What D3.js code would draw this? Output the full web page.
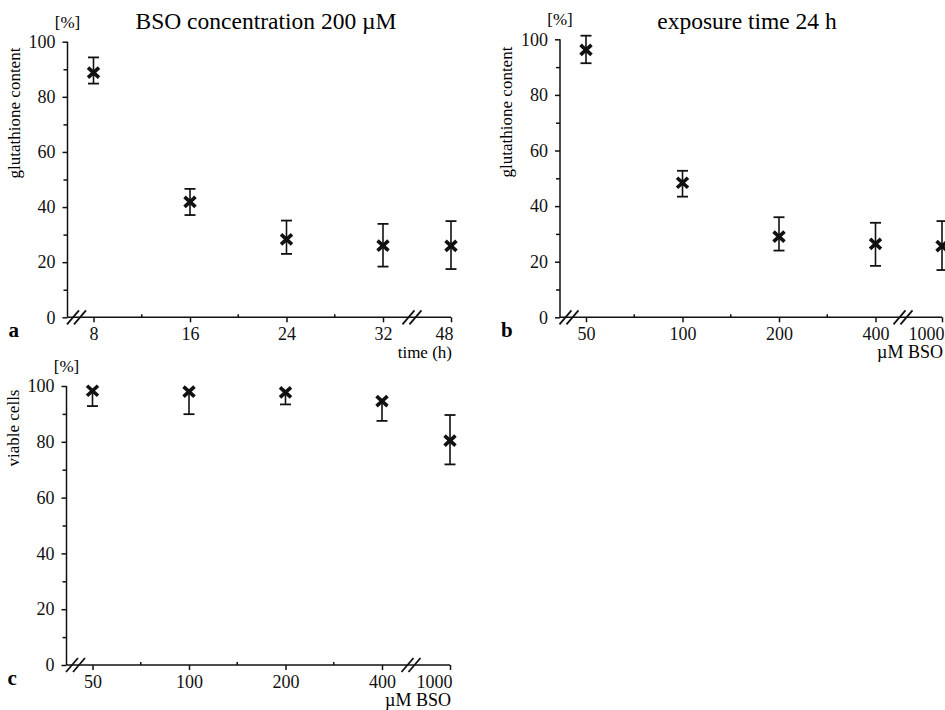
<!DOCTYPE html>
<html>
<head>
<meta charset="utf-8">
<script src="https://cdn.jsdelivr.net/npm/d3@7"></script>
<style>
  body { margin: 0; background: #fff; }
  svg { font-family: "Liberation Serif", "Times New Roman", serif; }
  .tick line, .domain { stroke: #111; stroke-width: 1.5; }
</style>
</head>
<body>
<svg id="chart" width="945" height="710"></svg>
<script>
// panel a: glutathione vs time, 200 uM BSO
const timeCats = ["8", "16", "24", "32", "48"];
const gshTimeMean = [88.8, 41.9, 28.3, 26.0, 25.9];
const gshTimeHigh = [94.3, 46.6, 35.1, 33.9, 34.9];
const gshTimeLow = [84.8, 37.1, 23.0, 18.4, 17.5];

// panel b: glutathione vs BSO dose, 24 h
const bsoCats = ["50", "100", "200", "400", "1000"];
const gshDoseMean = [96.2, 48.4, 29.0, 26.4, 25.6];
const gshDoseHigh = [101.3, 52.7, 36.0, 34.0, 34.6];
const gshDoseLow = [91.4, 43.4, 24.0, 18.5, 17.0];

// panel c: viable cells vs BSO dose
const viableMean = [98.3, 98.0, 97.7, 94.6, 80.4];
const viableHigh = [null, null, null, null, 89.6];
const viableLow = [92.8, 89.9, 93.4, 87.5, 71.9];

const yMajor = [0, 20, 40, 60, 80, 100];
const yMinor = [10, 30, 50, 70, 90];

const svg = d3.select("#chart");

function styleTicks(a) {
  a.selectAll("text")
    .attr("font-size", 18)
    .attr("font-family", "Liberation Serif, serif")
    .attr("fill", "#111");
}

function drawPanel(p) {
  const g = svg.append("g");

  const y = d3.scaleLinear().domain([0, 100]).range([p.bottom, p.top]);
  // first four categories evenly spaced, last one after the axis break
  const xr = p.cats.map((c, i) => i < p.cats.length - 1 ? p.left + 26 + i * 96.5 : p.right);
  const x = d3.scaleOrdinal().domain(p.cats).range(xr);
  const last = p.cats[p.cats.length - 1];

  // y axis
  g.append("g")
    .attr("transform", `translate(${p.left},0)`)
    .call(d3.axisLeft(y).tickValues(yMajor).tickSize(5).tickSizeOuter(0).tickPadding(7))
    .call(a => a.select(".domain").remove())
    .call(styleTicks);
  g.append("g")
    .attr("transform", `translate(${p.left},0)`)
    .call(d3.axisLeft(y).tickValues(yMinor).tickSize(4).tickFormat(""))
    .call(a => a.select(".domain").remove());
  g.append("line")
    .attr("x1", p.left).attr("x2", p.left)
    .attr("y1", y(0)).attr("y2", y(100))
    .attr("stroke", "#111").attr("stroke-width", 1.5);

  // x axis
  g.append("g")
    .attr("transform", `translate(0,${y(0)})`)
    .call(d3.axisBottom(x).tickSize(5).tickPadding(5))
    .call(a => a.select(".domain").remove())
    .call(styleTicks)
    .call(a => a.selectAll(".tick text")
      .filter(d => d === last)
      .attr("text-anchor", "end").attr("dx", 2));
  const mids = d3.range(3).map(i => (xr[i] + xr[i + 1]) / 2);
  g.selectAll(".minorx")
    .data(mids)
    .enter().append("line")
    .attr("x1", d => d).attr("x2", d => d)
    .attr("y1", y(0)).attr("y2", y(0) - 3)
    .attr("stroke", "#111").attr("stroke-width", 1.5);
  g.append("line")
    .attr("x1", p.left).attr("x2", p.right)
    .attr("y1", y(0)).attr("y2", y(0))
    .attr("stroke", "#111").attr("stroke-width", 1.5);

  // axis break marks
  [p.left + 9, p.right - 39].forEach(cx => {
    [-3.5, 3.5].forEach(dx => {
      g.append("line")
        .attr("x1", cx + dx - 6).attr("y1", y(0) + 7)
        .attr("x2", cx + dx + 6).attr("y2", y(0) - 7)
        .attr("stroke", "#111").attr("stroke-width", 1.8);
    });
  });

  // error bars
  const pts = p.cats.map((c, i) => ({c, m: p.mean[i], hi: p.high[i], lo: p.low[i]}));
  pts.forEach(d => {
    const cx = x(d.c);
    const top = d.hi == null ? d.m : d.hi;
    g.append("line")
      .attr("x1", cx).attr("x2", cx)
      .attr("y1", y(top)).attr("y2", y(d.lo))
      .attr("stroke", "#111").attr("stroke-width", 1.6);
    [d.hi, d.lo].forEach(v => {
      if (v == null) return;
      g.append("line")
        .attr("x1", cx - 5.5).attr("x2", cx + 5.5)
        .attr("y1", y(v)).attr("y2", y(v))
        .attr("stroke", "#111").attr("stroke-width", 1.8);
    });
  });

  // bold x markers
  g.selectAll(".mark")
    .data(pts)
    .enter().append("path")
    .attr("class", "mark")
    .attr("transform", d => `translate(${x(d.c)},${y(d.m)})`)
    .attr("d", "M-5.5,-5L5.5,5M-5.5,5L5.5,-5")
    .attr("stroke", "#111").attr("stroke-width", 3.6).attr("fill", "none");

  // texts
  g.append("text")
    .attr("x", p.left).attr("y", p.top - 14)
    .attr("text-anchor", "middle").attr("font-size", 17)
    .text("[%]");
  g.append("text")
    .attr("transform", `translate(${p.left - 48},${p.labelY}) rotate(-90)`)
    .attr("text-anchor", "middle").attr("font-size", 17)
    .text(p.yLabel);
  g.append("text")
    .attr("x", p.right + 1).attr("y", y(0) + 41)
    .attr("text-anchor", "end").attr("font-size", p.xLabelSize)
    .text(p.xLabel);
  g.append("text")
    .attr("x", p.left - 59).attr("y", y(0) + 20)
    .attr("font-size", 21).attr("font-weight", "bold")
    .text(p.letter);
  if (p.title) {
    g.append("text")
      .attr("x", p.titleX).attr("y", 29)
      .attr("text-anchor", "middle").attr("font-size", 23.5)
      .text(p.title);
  }
}

drawPanel({
  left: 67.5, right: 451, top: 41.7, bottom: 317.3,
  cats: timeCats, mean: gshTimeMean, high: gshTimeHigh, low: gshTimeLow,
  yLabel: "glutathione content", labelY: 113, xLabel: "time (h)", xLabelSize: 17, letter: "a",
  title: "BSO concentration 200 µM", titleX: 266
});
drawPanel({
  left: 560, right: 942, top: 39.3, bottom: 317.3,
  cats: bsoCats, mean: gshDoseMean, high: gshDoseHigh, low: gshDoseLow,
  yLabel: "glutathione content", labelY: 112, xLabel: "µM BSO", xLabelSize: 18, letter: "b",
  title: "exposure time 24 h", titleX: 747
});
drawPanel({
  left: 66.5, right: 450, top: 386, bottom: 665,
  cats: bsoCats, mean: viableMean, high: viableHigh, low: viableLow,
  yLabel: "viable cells", labelY: 428, xLabel: "µM BSO", xLabelSize: 18, letter: "c"
});
</script>
</body>
</html>
